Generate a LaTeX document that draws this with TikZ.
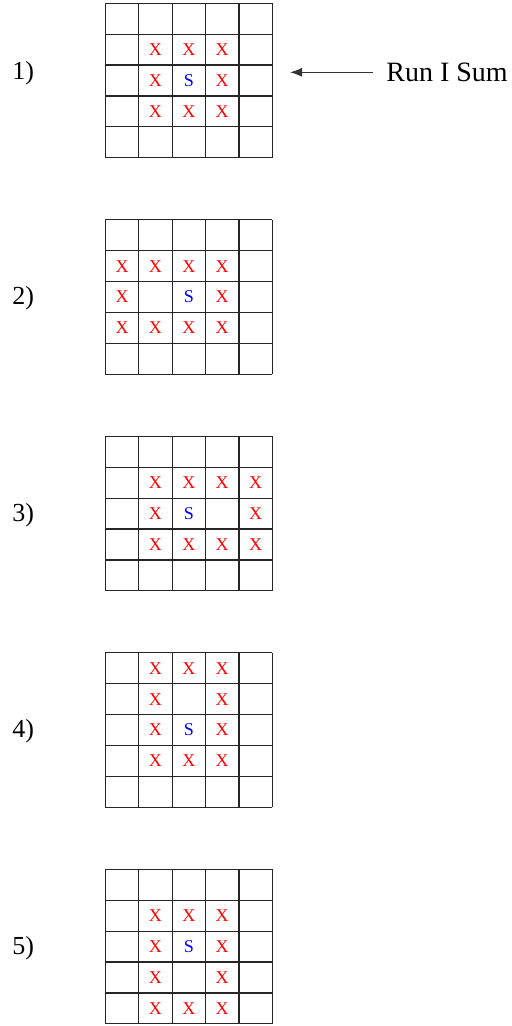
\documentclass[tikz,border=0pt]{standalone}
\usepackage{fontspec}
\setmainfont{Liberation Serif}
\usetikzlibrary{arrows.meta, positioning}
\tikzset{
    cellgrid/.style={draw=black!85, line width=0.6pt, step=1},
    board/.style={x=16.7pt, y=15.45pt},
    xmark/.style={text=red, font=\fontsize{9}{10}\selectfont, inner sep=0pt},
    smark/.style={text=blue, font=\fontsize{9}{10}\selectfont, inner sep=0pt},
    steplabel/.style={font=\fontsize{13}{15}\selectfont, inner sep=0pt},
    sumlabel/.style={font=\fontsize{14}{16}\selectfont, inner sep=0pt},
    sumarrow/.style={-{Latex[length=6pt,width=4.5pt]}, line width=0.5pt, draw=black!80}
}

\begin{document}
\begin{tikzpicture}[x=0.5pt, y=-0.5pt]
    \useasboundingbox (0,0) rectangle (512,1026);

    % Grids with the centre cell (scope origin = lower left corner)
    \foreach \g/\ybot in {1/157.8, 2/374.3, 3/590.8, 4/807.3, 5/1023.8} {
        \begin{scope}[shift={(105.3,\ybot)}, board]
            \draw[cellgrid] (0,0) grid (5,5);
            \node[smark] (s\g) at (2.5,2.5) {S};
        \end{scope}
    }

    % Step labels
    \node[steplabel, anchor=base west] (lbl1) at (12,80) {1)};
    \node[steplabel, anchor=base west] (lbl2) at (12,304.8) {2)};
    \node[steplabel, anchor=base west] (lbl3) at (12,521.3) {3)};
    \node[steplabel, anchor=base west] (lbl4) at (12,737.8) {4)};
    \node[steplabel, anchor=base west] (lbl5) at (12,954.3) {5)};

    % Marks of step 1
    \begin{scope}[shift={(105.3,157.8)}, board]
        \foreach \c/\r in {2/2,3/2,4/2,2/3,4/3,2/4,3/4,4/4}
            \node[xmark] (xa-\c\r) at (\c-0.5,5.5-\r) {X};
    \end{scope}

    % Marks of step 2
    \begin{scope}[shift={(105.3,374.3)}, board]
        \foreach \c/\r in {1/2,2/2,3/2,4/2,1/3,4/3,1/4,2/4,3/4,4/4}
            \node[xmark] (xb-\c\r) at (\c-0.5,5.5-\r) {X};
    \end{scope}

    % Marks of step 3
    \begin{scope}[shift={(105.3,590.8)}, board]
        \foreach \c/\r in {2/2,3/2,4/2,5/2,2/3,5/3,2/4,3/4,4/4,5/4}
            \node[xmark] (xc-\c\r) at (\c-0.5,5.5-\r) {X};
    \end{scope}

    % Marks of step 4
    \begin{scope}[shift={(105.3,807.3)}, board]
        \foreach \c/\r in {2/1,3/1,4/1,2/2,4/2,2/3,4/3,2/4,3/4,4/4}
            \node[xmark] (xd-\c\r) at (\c-0.5,5.5-\r) {X};
    \end{scope}

    % Marks of step 5
    \begin{scope}[shift={(105.3,1023.8)}, board]
        \foreach \c/\r in {2/2,3/2,4/2,2/3,4/3,2/4,4/4,2/5,3/5,4/5}
            \node[xmark] (xe-\c\r) at (\c-0.5,5.5-\r) {X};
    \end{scope}

    % Run I Sum pointer
    \coordinate (sumtip) at (290,72.3);
    \node[sumlabel, anchor=west, inner xsep=6.5pt] (runsum) at (373,72.3) {Run I Sum};
    \draw[sumarrow] (runsum) -- (sumtip);
\end{tikzpicture}
\end{document}
